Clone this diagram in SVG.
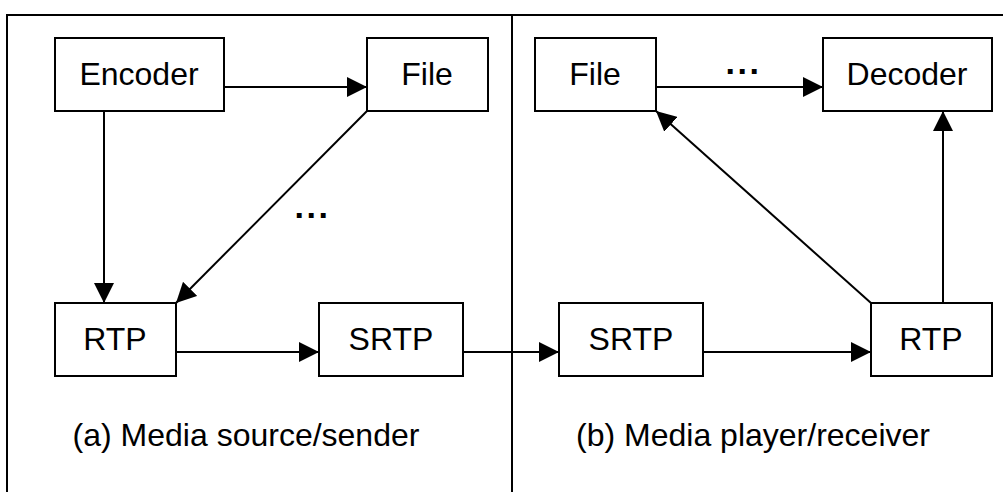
<svg xmlns="http://www.w3.org/2000/svg" width="1003" height="492" viewBox="0 0 1003 492">
  <style>
    .box { fill: #fff; stroke: #000; stroke-width: 2; }
    .lbl { font-family: "Liberation Sans", Arial, sans-serif; font-size: 32px; fill: #000; text-anchor: middle; }
    .edge { stroke: #000; stroke-width: 2; fill: none; marker-end: url(#head); }
    .frame { stroke: #000; stroke-width: 2; fill: none; }
    .dots { font-family: "Liberation Sans", Arial, sans-serif; font-size: 34px; font-weight: bold; letter-spacing: 2.6px; fill: #000; }
  </style>
  <defs>
    <marker id="head" markerUnits="userSpaceOnUse" markerWidth="20" markerHeight="20" refX="20" refY="10" orient="auto">
      <path d="M0,0 L20,10 L0,20 z" fill="#000"/>
    </marker>
  </defs>
  <rect width="1003" height="492" fill="#fff"/>

  <!-- frame and divider between sender and receiver -->
  <g id="frame">
    <path class="frame" d="M7,492 V15 H1003"/>
    <path class="frame" d="M512,15 V492"/>
  </g>

  <!-- connectors -->
  <g id="connectors">
    <path class="edge" d="M224,87 H367"/>
    <path class="edge" d="M104,111 V303"/>
    <path class="edge" d="M367,111 L176,303"/>
    <path class="edge" d="M176,352 H319"/>
    <path class="edge" d="M463,352 H559"/>
    <path class="edge" d="M703,352 H871"/>
    <path class="edge" d="M871,303 L656,111"/>
    <path class="edge" d="M943,303 V111"/>
    <path class="edge" d="M656,87 H823"/>
    <text class="dots" x="294.5" y="217.5">...</text>
    <text class="dots" x="725.5" y="73.5">...</text>
  </g>

  <!-- sender side -->
  <g id="encoder">
    <rect class="box" x="55" y="38" width="169" height="73"/>
    <text class="lbl" x="139" y="85">Encoder</text>
  </g>
  <g id="file-src">
    <rect class="box" x="367" y="38" width="121" height="73"/>
    <text class="lbl" x="427" y="85">File</text>
  </g>
  <g id="rtp-src">
    <rect class="box" x="55" y="303" width="121" height="73"/>
    <text class="lbl" x="115" y="350">RTP</text>
  </g>
  <g id="srtp-src">
    <rect class="box" x="319" y="303" width="144" height="73"/>
    <text class="lbl" x="391" y="350">SRTP</text>
  </g>

  <!-- receiver side -->
  <g id="file-dst">
    <rect class="box" x="535" y="38" width="121" height="73"/>
    <text class="lbl" x="595" y="85">File</text>
  </g>
  <g id="decoder">
    <rect class="box" x="823" y="38" width="169" height="73"/>
    <text class="lbl" x="907" y="85">Decoder</text>
  </g>
  <g id="srtp-dst">
    <rect class="box" x="559" y="303" width="144" height="73"/>
    <text class="lbl" x="631" y="350">SRTP</text>
  </g>
  <g id="rtp-dst">
    <rect class="box" x="871" y="303" width="121" height="73"/>
    <text class="lbl" x="931" y="350">RTP</text>
  </g>

  <!-- captions -->
  <g id="captions">
    <text class="lbl" x="246" y="446">(a) Media source/sender</text>
    <text class="lbl" x="753" y="446">(b) Media player/receiver</text>
  </g>
</svg>
